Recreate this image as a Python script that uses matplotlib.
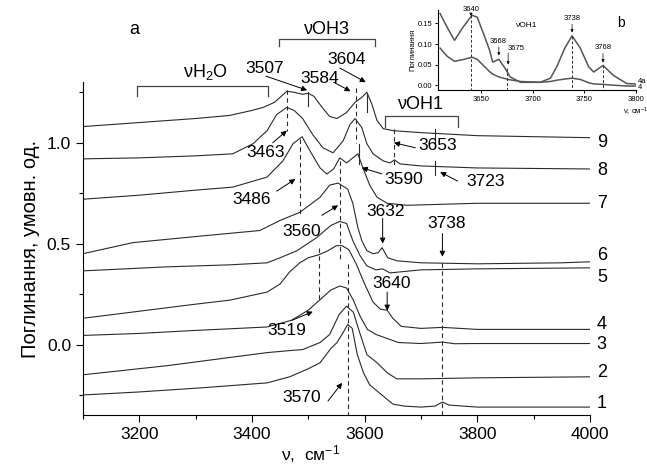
import matplotlib
matplotlib.use("Agg")
import matplotlib.pyplot as plt

plt.rcParams['font.family'] = ['Liberation Sans', 'DejaVu Sans']
plt.rcParams['mathtext.fontset'] = 'custom'
plt.rcParams['mathtext.rm'] = 'Liberation Sans'
plt.rcParams['mathtext.it'] = 'Liberation Sans:italic'

# spectra (wavenumber, absorbance), curves 1..9 from bottom to top
x1 = [3100, 3200, 3308, 3427, 3467, 3500, 3521, 3540, 3551, 3562, 3570, 3578, 3587, 3598, 3609, 3622, 3635, 3650, 3670, 3700, 3725, 3738, 3750, 3765, 3800, 3900, 4000]
y1 = [-0.25, -0.235, -0.215, -0.19, -0.16, -0.12, -0.09, -0.02, 0.01, 0.06, 0.10, 0.08, -0.05, -0.14, -0.20, -0.23, -0.26, -0.295, -0.305, -0.31, -0.305, -0.285, -0.30, -0.303, -0.31, -0.31, -0.31]

x2 = [3100, 3249, 3427, 3467, 3490, 3521, 3538, 3555, 3568, 3580, 3590, 3604, 3622, 3640, 3657, 3700, 3800, 4000]
y2 = [-0.15, -0.105, -0.04, -0.03, -0.025, 0.01, 0.05, 0.15, 0.19, 0.16, 0.07, -0.05, -0.09, -0.14, -0.17, -0.17, -0.165, -0.16]

x3 = [3100, 3200, 3300, 3361, 3427, 3470, 3500, 3520, 3540, 3556, 3568, 3580, 3592, 3605, 3620, 3640, 3660, 3700, 3738, 3760, 3800, 4000]
y3 = [0.045, 0.055, 0.07, 0.078, 0.087, 0.12, 0.17, 0.22, 0.27, 0.29, 0.28, 0.22, 0.14, 0.075, 0.05, 0.03, 0.01, 0.005, 0.012, 0.004, 0.005, 0.005]

x4 = [3100, 3200, 3300, 3361, 3427, 3450, 3467, 3485, 3500, 3519, 3535, 3550, 3560, 3572, 3585, 3600, 3615, 3628, 3640, 3650, 3665, 3700, 3738, 3800, 4000]
y4 = [0.13, 0.165, 0.2, 0.22, 0.26, 0.30, 0.36, 0.405, 0.43, 0.445, 0.465, 0.49, 0.49, 0.47, 0.40, 0.30, 0.21, 0.175, 0.17, 0.13, 0.09, 0.08, 0.085, 0.075, 0.075]

x5 = [3100, 3250, 3361, 3427, 3450, 3480, 3515, 3540, 3556, 3568, 3579, 3592, 3604, 3620, 3632, 3645, 3700, 3800, 4000]
y5 = [0.365, 0.385, 0.395, 0.405, 0.43, 0.465, 0.53, 0.59, 0.61, 0.60, 0.515, 0.44, 0.39, 0.37, 0.375, 0.355, 0.37, 0.375, 0.38]

x6 = [3100, 3189, 3300, 3414, 3450, 3485, 3521, 3538, 3553, 3570, 3579, 3588, 3595, 3604, 3615, 3624, 3631, 3641, 3657, 3700, 3800, 3950, 4000]
y6 = [0.45, 0.505, 0.535, 0.565, 0.615, 0.655, 0.73, 0.79, 0.80, 0.77, 0.70, 0.58, 0.515, 0.465, 0.45, 0.455, 0.48, 0.43, 0.415, 0.405, 0.40, 0.405, 0.41]

x7 = [3100, 3200, 3300, 3366, 3427, 3455, 3473, 3489, 3503, 3521, 3533, 3545, 3556, 3568, 3588, 3597, 3609, 3622, 3640, 3675, 3800, 4000]
y7 = [0.72, 0.74, 0.765, 0.78, 0.83, 0.91, 0.995, 1.03, 0.96, 0.875, 0.845, 0.87, 0.925, 0.90, 0.945, 0.875, 0.79, 0.73, 0.70, 0.69, 0.70, 0.70]

x8 = [3100, 3200, 3300, 3366, 3402, 3427, 3444, 3462, 3475, 3490, 3508, 3526, 3544, 3562, 3574, 3583, 3595, 3604, 3615, 3633, 3645, 3653, 3663, 3700, 3800, 4000]
y8 = [0.92, 0.925, 0.935, 0.945, 0.995, 1.06, 1.14, 1.175, 1.16, 1.12, 1.04, 0.975, 0.95, 1.01, 1.09, 1.12, 1.075, 0.995, 0.945, 0.91, 0.90, 0.915, 0.895, 0.885, 0.875, 0.87]

x9 = [3100, 3200, 3300, 3360, 3400, 3420, 3440, 3450, 3462, 3475, 3490, 3500, 3510, 3526, 3538, 3551, 3568, 3583, 3595, 3604, 3613, 3622, 3633, 3650, 3700, 3800, 3900, 4000]
y9 = [1.08, 1.10, 1.12, 1.135, 1.16, 1.175, 1.20, 1.225, 1.255, 1.25, 1.24, 1.245, 1.23, 1.17, 1.13, 1.12, 1.15, 1.20, 1.225, 1.25, 1.19, 1.11, 1.07, 1.06, 1.05, 1.035, 1.03, 1.025]

curves_x = [x1, x2, x3, x4, x5, x6, x7, x8, x9]
curves_y = [y1, y2, y3, y4, y5, y6, y7, y8, y9]
curve_names = ['1', '2', '3', '4', '5', '6', '7', '8', '9']
name_y = [-0.29, -0.14, 0.0, 0.1, 0.33, 0.44, 0.70, 0.86, 1.0]

# inset b: spectra 4a and 4
xb = [3610, 3617, 3624, 3632, 3641, 3646, 3652, 3658, 3661, 3667, 3673, 3678, 3688, 3707, 3717, 3723, 3731, 3738, 3746, 3754, 3759, 3768, 3778, 3791, 3800]
yb_4a = [0.174, 0.14, 0.109, 0.14, 0.17, 0.165, 0.126, 0.085, 0.056, 0.063, 0.041, 0.02, 0.007, 0.007, 0.017, 0.044, 0.09, 0.12, 0.09, 0.045, 0.032, 0.048, 0.024, 0.004, 0.003]
yb_4 = [0.09, 0.07, 0.058, 0.062, 0.068, 0.063, 0.048, 0.033, 0.027, 0.02, 0.016, 0.013, 0.009, 0.007, 0.009, 0.012, 0.015, 0.017, 0.014, 0.006, 0.003, 0.002, 0.0, -0.002, -0.002]

fig = plt.figure(figsize=(6.47, 4.67), dpi=100)
ax = fig.add_axes([0.128, 0.111, 0.784, 0.713])
lc = '#2a2a2a'
for cx, cy in zip(curves_x, curves_y):
    ax.plot(cx, cy, color=lc, lw=0.8)
for nm, ny in zip(curve_names, name_y):
    ax.text(4012, ny, nm, fontsize=13, va='center', ha='left', clip_on=False)

ax.set_xlim(3100, 4000)
ax.set_ylim(-0.35, 1.30)
ax.set_xticks([3200, 3400, 3600, 3800, 4000])
ax.set_xticks([3100, 3300, 3500, 3700, 3900], minor=True)
ax.set_yticks([0.0, 0.5, 1.0])
ax.set_yticklabels(['0.0', '0.5', '1.0'])
ax.set_yticks([-0.25, 0.25, 0.75, 1.25], minor=True)
ax.tick_params(labelsize=12.5, length=5, width=0.8, direction='out')
ax.tick_params(which='minor', length=3, width=0.8)
for s in ['top', 'right']:
    ax.spines[s].set_visible(False)
for s in ['left', 'bottom']:
    ax.spines[s].set_linewidth(0.8)
ax.set_xlabel(r'ν,  см$^{-1}$', fontsize=12.5, labelpad=1, x=0.45)
ax.set_ylabel('Поглинання, умовн. од.', fontsize=14.5, labelpad=5)

# dashed guide lines (wavenumber, y from, y to)
dashes = [(3463, 1.26, 1.06), (3486, 1.02, 0.63), (3584, 1.27, 1.0), (3653, 1.07, 0.88),
          (3556, 0.91, 0.42), (3519, 0.48, 0.21), (3570, 0.40, -0.35), (3738, 0.405, -0.35)]
for wx, ya, yb in dashes:
    ax.plot([wx, wx], [ya, yb], color=lc, lw=0.8, ls=(0, (4, 3)))

# solid band markers
marks = [(3500, 1.25, 1.18), (3604, 1.24, 1.15), (3590, 0.995, 0.895), (3725, 1.07, 1.0), (3725, 0.91, 0.84)]
for wx, ya, yb in marks:
    ax.plot([wx, wx], [ya, yb], color=lc, lw=0.8)

# band region brackets
brackets = [('νH$_2$O', 3196, 3428, 1.28, 0.05, 3318, 1.35),
            ('νOH3', 3448, 3618, 1.515, 0.035, 3533, 1.56),
            ('νOH1', 3636, 3766, 1.134, 0.055, 3700, 1.19)]
for txt, xa, xb2, yy, dh, tx, ty in brackets:
    ax.plot([xa, xa, xb2, xb2], [yy - dh, yy, yy, yy - dh], color='#444444', lw=0.9, clip_on=False)
    ax.text(tx, ty, txt, fontsize=13, ha='center', va='center')

ax.text(3192, 1.56, 'a', fontsize=13, ha='center', va='center')

# peak labels: (text, text xy, arrow tail, arrow tip)
peaks = [('3507', (3422, 1.37), (3425, 1.33), (3498, 1.26)),
         ('3584', (3521, 1.32), (3545, 1.30), (3575, 1.255)),
         ('3604', (3568, 1.41), (3556, 1.37), (3602, 1.30)),
         ('3463', (3425, 0.95), (3437, 1.0), (3462, 1.06)),
         ('3486', (3400, 0.72), (3444, 0.76), (3477, 0.82)),
         ('3653', (3730, 0.985), (3690, 0.975), (3652, 1.0)),
         ('3590', (3670, 0.82), (3630, 0.846), (3595, 0.876)),
         ('3723', (3815, 0.81), (3765, 0.81), (3734, 0.855)),
         ('3560', (3489, 0.56), (3524, 0.64), (3553, 0.69)),
         ('3632', (3638, 0.66), (3632, 0.625), (3632, 0.50)),
         ('3738', (3745, 0.60), (3738, 0.55), (3738, 0.435)),
         ('3640', (3648, 0.30), (3640, 0.26), (3640, 0.168)),
         ('3519', (3462, 0.07), (3471, 0.12), (3508, 0.163)),
         ('3570', (3489, -0.26), (3535, -0.28), (3560, -0.19))]
for txt, pos, tail, tip in peaks:
    ax.text(pos[0], pos[1], txt, fontsize=12.5, ha='center', va='center')
    ax.annotate('', xy=tip, xytext=tail, annotation_clip=False,
                arrowprops=dict(arrowstyle='-|>', color='k', lw=0.7, mutation_scale=8, shrinkA=0, shrinkB=0))

# inset b
ib = fig.add_axes([0.677, 0.807, 0.306, 0.171])
ib.plot(xb, yb_4a, color='#555555', lw=1.1)
ib.plot(xb, yb_4, color='#555555', lw=1.1)
ib.set_xlim(3608, 3800)
ib.set_ylim(-0.012, 0.182)
ib.set_xticks([3650, 3700, 3750, 3800])
ib.set_yticks([0.0, 0.05, 0.10, 0.15])
ib.set_yticklabels(['0.00', '0.05', '0.10', '0.15'])
ib.tick_params(labelsize=5.5, length=2.5, width=0.7, pad=1.5)
for s in ['top', 'right']:
    ib.spines[s].set_visible(False)
for s in ['left', 'bottom']:
    ib.spines[s].set_linewidth(0.8)
ib.set_ylabel('Поглинання', fontsize=5.5, labelpad=1)
ib.text(1.0, -0.2, r'ν, см$^{-1}$', fontsize=5.5, transform=ib.transAxes, ha='center', va='top')
for wx, ya in [(3640, 0.17), (3675, 0.041), (3738, 0.12), (3768, 0.048)]:
    ib.plot([wx, wx], [ya, -0.012], color='#333333', lw=0.7, ls=(0, (3, 2)))
for txt, pos, tail, tip in [('3640', (3640, 0.183), (3640, 0.175), (3640, 0.168)),
                            ('3668', (3666, 0.107), (3667, 0.093), (3667, 0.072)),
                            ('3675', (3684, 0.090), (3676, 0.078), (3676, 0.05)),
                            ('3738', (3738, 0.163), (3738, 0.148), (3738, 0.128)),
                            ('3768', (3768, 0.092), (3768, 0.077), (3768, 0.055))]:
    ib.text(pos[0], pos[1], txt, fontsize=5.5, ha='center', va='center', clip_on=False)
    ib.annotate('', xy=tip, xytext=tail, annotation_clip=False,
                arrowprops=dict(arrowstyle='-|>', color='k', lw=0.5, mutation_scale=4, shrinkA=0, shrinkB=0))
ib.text(3693, 0.145, 'νOH1', fontsize=6, ha='center', va='center')
ib.text(3785, 0.15, 'b', fontsize=10, ha='center', va='center')
ib.text(3802, 0.009, '4a', fontsize=5.5, ha='left', va='center', clip_on=False)
ib.text(3802, -0.006, '4', fontsize=5.5, ha='left', va='center', clip_on=False)

fig.savefig('out.png', dpi=100)
